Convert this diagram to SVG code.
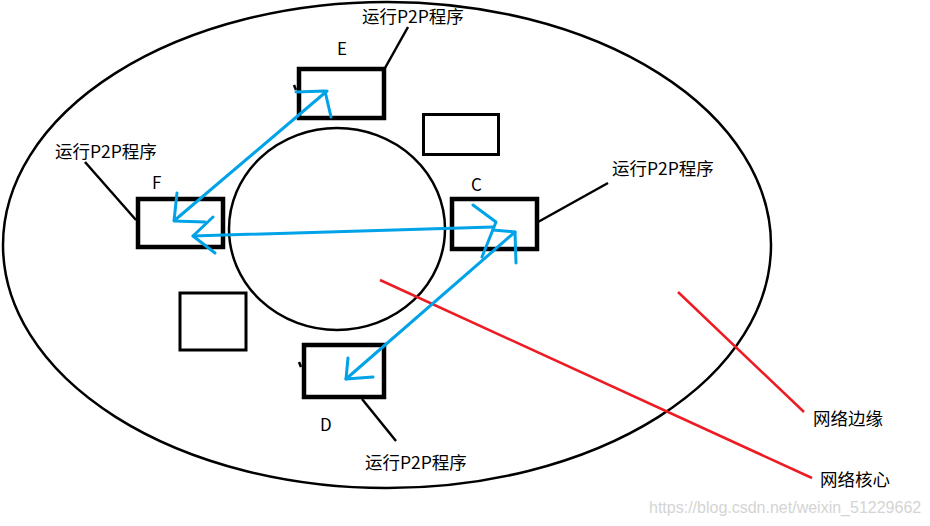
<svg xmlns="http://www.w3.org/2000/svg" width="930" height="526" viewBox="0 0 930 526">
<style>
.k{fill:none;stroke:#000;stroke-width:2.5}
.box{fill:none;stroke:#000;stroke-width:4.5}
.eb{fill:none;stroke:#000;stroke-width:3}
.b{fill:none;stroke:#00a2e8;stroke-width:3;stroke-linecap:round;stroke-linejoin:round}
.r{fill:none;stroke:#ed1c24;stroke-width:2.5}
.t{font-family:"Noto Sans CJK SC","Liberation Sans",sans-serif;font-size:17.5px;fill:#000}
.l{font-family:"Noto Sans CJK SC","Liberation Sans",sans-serif;font-size:17px;fill:#000}
.w{font-family:"Liberation Sans",sans-serif;font-size:16px;fill:#d4d4d4}
</style>
<rect width="930" height="526" fill="#fff"/>
<g id="edge-area"><ellipse cx="387" cy="245" rx="384" ry="243" class="k"/></g>
<g id="core"><ellipse cx="337" cy="229" rx="108" ry="101" class="k" stroke-width="2"/></g>
<g id="E">
<rect x="299" y="69" width="85" height="49" class="box"/>
<text x="337" y="55" class="l">E</text>
<path d="M294 85 L296 90" class="k" stroke-width="1.5"/>
</g>
<g id="F">
<rect x="138" y="199" width="85" height="48" class="box"/>
<text x="152" y="189" class="l">F</text>
</g>
<g id="C">
<rect x="452" y="199" width="85" height="50" class="box"/>
<text x="471" y="191" class="l">C</text>
</g>
<g id="D">
<rect x="304" y="345" width="80" height="52" class="box"/>
<text x="320" y="431" class="l">D</text>
<path d="M299 362 L301 367" class="k" stroke-width="1.5"/>
</g>
<g id="box1"><rect x="423.5" y="114.5" width="75" height="40" class="eb"/></g>
<g id="box2"><rect x="180" y="293" width="66" height="57" class="eb"/></g>
<g id="labels">
<text x="362" y="23" class="t">运行P2P程序</text>
<text x="55" y="158" class="t">运行P2P程序</text>
<text x="612" y="175" class="t">运行P2P程序</text>
<text x="365" y="469" class="t">运行P2P程序</text>
<text x="813" y="425" class="t">网络边缘</text>
<text x="820" y="486" class="t">网络核心</text>
<text x="649" y="513" class="w">https://blog.csdn.net/weixin_51229662</text>
</g>
<g id="connectors">
<path d="M385 68 L408 27" class="k"/>
<path d="M85 162 L136 220" class="k"/>
<path d="M538 222 L608 183" class="k"/>
<path d="M362 399 L396 441" class="k"/>
<path d="M380 280 L812 478" class="r"/>
<path d="M678 292 L804 412" class="r"/>
<path d="M327 91 L175 220" class="b"/>
<path d="M296 92 L325 91 L331 117" class="b"/>
<path d="M177 193 L174 221 L205 222" class="b"/>
<path d="M193 236 L493 227" class="b"/>
<path d="M213 217 L193 236 L215 253" class="b"/>
<path d="M473 205 L496 222 L482 257" class="b"/>
<path d="M515 232 L346 379" class="b"/>
<path d="M493 230 L515 232 L516 263" class="b"/>
<path d="M348 358 L346 379 L373 377" class="b"/>
</g>
</svg>
